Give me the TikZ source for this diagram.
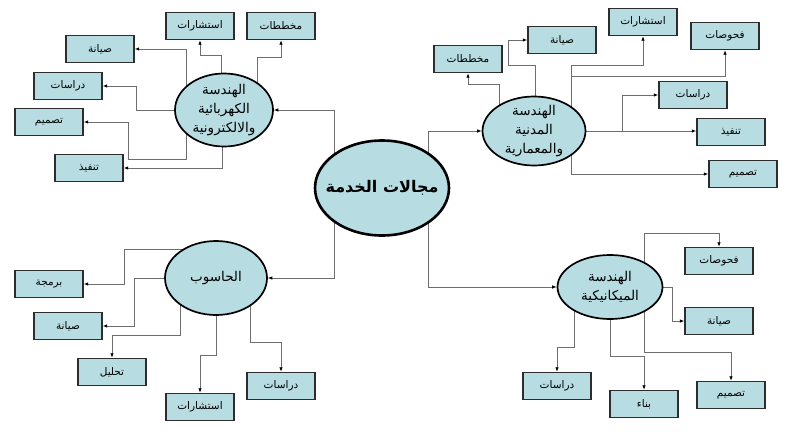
\documentclass[tikz,border=0pt]{standalone}
\usepackage{fontspec}
\usepackage{tikz}
\usetikzlibrary{shapes.geometric, arrows.meta, calc, backgrounds}
\TeXXeTstate=1
\newfontfamily\arabicfont[Script=Arabic]{DejaVu Sans}
\newcommand{\artext}[1]{\beginR #1\endR}
\definecolor{boxblue}{RGB}{183,221,227}
\definecolor{boxedge}{RGB}{45,45,45}
\definecolor{linegray}{RGB}{110,110,110}

\begin{document}
\begin{tikzpicture}[x=1pt, y=-1pt]
\tikzset{
    every node/.style={align=center, inner sep=0pt},
    topic/.style={ellipse, draw=black, line width=1.7pt, fill=boxblue, inner xsep=-10pt, inner ysep=-4pt, font=\arabicfont\fontsize{13.5}{19}\selectfont},
    item/.style={rectangle, draw=boxedge, line width=1.4pt, fill=boxblue, minimum width=68pt, minimum height=27pt, font=\arabicfont\fontsize{10.5}{12}\selectfont},
    link/.style={draw=linegray, line width=0.8pt, -{Latex[length=4.5pt, width=3.5pt, color=black]}}
}
\useasboundingbox (0,0) rectangle (800,431);

% centre
\node[topic, line width=2.6pt, inner xsep=-16pt, minimum width=134pt, minimum height=95pt, font=\arabicfont\bfseries\fontsize{16}{18}\selectfont] (main) at (382,188) {\artext{مجالات الخدمة}};

% the four fields
\node[topic, minimum width=98pt, minimum height=73pt] (elec) at (224,110) {\artext{الهندسة}\\\artext{الكهربائية}\\\artext{والالكترونية}};
\node[topic, minimum width=103pt, minimum height=69pt] (civil) at (534,131) {\artext{الهندسة}\\\artext{المدنية}\\\artext{والمعمارية}};
\node[topic, minimum width=102pt, minimum height=74pt] (comp) at (216,278) {\artext{الحاسوب}};
\node[topic, minimum width=105pt, minimum height=64pt] (mech) at (610,287) {\artext{الهندسة}\\\artext{الميكانيكية}};

% electrical
\node[item] (e1) at (200,26) {\artext{استشارات}};
\node[item] (e2) at (281,26) {\artext{مخططات}};
\node[item] (e3) at (100,49) {\artext{صيانة}};
\node[item] (e4) at (68,86) {\artext{دراسات}};
\node[item] (e5) at (49,122) {\artext{تصميم}};
\node[item] (e6) at (89,168) {\artext{تنفيذ}};

% civil
\node[item] (c1) at (468,59) {\artext{مخططات}};
\node[item] (c2) at (562,40) {\artext{صيانة}};
\node[item] (c3) at (643,22) {\artext{استشارات}};
\node[item] (c4) at (725,36) {\artext{فحوصات}};
\node[item] (c5) at (693,95) {\artext{دراسات}};
\node[item] (c6) at (731,132) {\artext{تنفيذ}};
\node[item] (c7) at (743,174) {\artext{تصميم}};

% computer
\node[item] (p1) at (49,284) {\artext{برمجة}};
\node[item] (p2) at (68,326) {\artext{صيانة}};
\node[item] (p3) at (112,372) {\artext{تحليل}};
\node[item] (p4) at (200,407) {\artext{استشارات}};
\node[item] (p5) at (281,386) {\artext{دراسات}};

% mechanical
\node[item] (m1) at (719,261) {\artext{فحوصات}};
\node[item] (m2) at (719,321) {\artext{صيانة}};
\node[item] (m3) at (557,386) {\artext{دراسات}};
\node[item] (m4) at (644,404) {\artext{بناء}};
\node[item] (m5) at (731,395) {\artext{تصميم}};

\begin{scope}[on background layer]
% from the centre
\draw[link] ($(main)+(-48,0)$) |- (elec);
\draw[link] ($(main)+(46,0)$) |- (civil);
\draw[link] ($(main)+(-48,0)$) |- (comp);
\draw[link] ($(main)+(46,0)$) |- (mech);

% electrical
\draw[link] ($(elec)+(-3,0)$) -- ++(0,-55) -| (e1);
\draw[link] ($(elec)+(33,0)$) -- ++(0,-53) -| (e2);
\draw[link] ($(elec)+(-38,0)$) |- (e3);
\draw[link] (elec) -- ++(-88,0) |- (e4);
\draw[link] ($(elec)+(-38,0)$) -- ++(0,49) -- ++(-58,0) |- (e5);
\draw[link] ($(elec)+(-2,0)$) |- (e6);

% civil
\draw[link] ($(civil)+(-35,0)$) -- ++(0,-47) -| (c1);
\draw[link] ($(civil)+(1,0)$) -- ++(0,-66) -- ++(-27,0) |- (c2);
\draw[link] ($(civil)+(37,0)$) -- ++(0,-66) -| (c3);
\draw[link] ($(civil)+(37,0)$) -- ++(0,-55) -| (c4);
\draw[link] ($(civil)+(88,0)$) |- (c5);
\draw[link] (civil) -- (civil -| c6.west);
\draw[link] ($(civil)+(37,0)$) |- (c7);

% computer
\draw[link] ($(comp)+(0,-29)$) -- ++(-92,0) |- (p1);
\draw[link] (comp) -- ++(-82,0) |- (p2);
\draw[link] ($(comp)+(-36,0)$) -- ++(0,57) -| (p3);
\draw[link] (comp) -- ++(0,77) -| (p4);
\draw[link] ($(comp)+(34,0)$) -- ++(0,64) -| (p5);

% mechanical
\draw[link] ($(mech)+(34,0)$) -- ++(0,-54) -| (m1);
\draw[link] (mech) -- ++(62,0) |- (m2);
\draw[link] ($(mech)+(-36,0)$) -- ++(0,60) -| (m3);
\draw[link] (mech) -- ++(0,69) -| (m4);
\draw[link] ($(mech)+(34,0)$) -- ++(0,65) -| (m5);
\end{scope}
\end{tikzpicture}
\end{document}
